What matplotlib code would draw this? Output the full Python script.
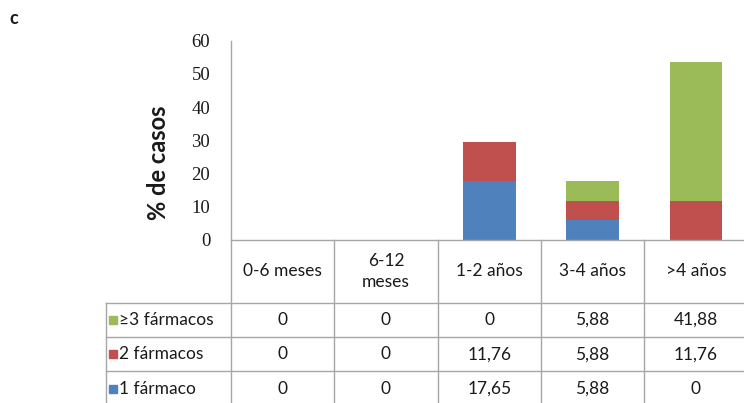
import numpy as np
import matplotlib
matplotlib.use("Agg")
import matplotlib.pyplot as plt

plt.rcParams['font.family'] = ['Lato', 'DejaVu Sans']

# datos
categorias = ["0-6 meses", "6-12\nmeses", "1-2 años", "3-4 años", ">4 años"]
series = ["≥3 fármacos", "2 fármacos", "1 fármaco"]
un_farmaco = [0, 0, 17.65, 5.88, 0]
dos_farmacos = [0, 0, 11.76, 5.88, 11.76]
tres_farmacos = [0, 0, 0, 5.88, 41.88]
yticks = [0, 10, 20, 30, 40, 50, 60]

azul = "#4F81BD"
rojo = "#C0504D"
verde = "#9BBB59"
gris = "#A6A6A6"
texto = "#1a1a1a"

W, H = 744, 403
fig = plt.figure(figsize=(W / 100, H / 100), dpi=100)

# eje de barras
ax = fig.add_axes([231 / W, (H - 240) / H, 516.5 / W, (240 - 40.6) / H])
x = np.arange(len(categorias))
ax.bar(x, un_farmaco, width=0.51, color=azul)
ax.bar(x, dos_farmacos, width=0.51, bottom=un_farmaco, color=rojo)
base3 = np.array(un_farmaco) + np.array(dos_farmacos)
ax.bar(x, tres_farmacos, width=0.51, bottom=base3, color=verde)
ax.set_xlim(-0.5, 4.5)
ax.set_ylim(0, 60)
ax.set_yticks(yticks)
ax.set_yticklabels([str(v) for v in yticks], family='Liberation Serif',
                   fontsize=13.5, color=texto)
ax.set_xticks([])
ax.tick_params(axis='y', length=0, pad=15)
for s in ['top', 'right', 'bottom']:
    ax.spines[s].set_visible(False)
ax.spines['left'].set_color(gris)
ax.spines['left'].set_linewidth(1.0)

fig.text(158 / W, 1 - 163 / H, "% de casos", rotation=90, ha='center',
         va='center', fontsize=17, fontweight='bold', color=texto)
fig.text(14 / W, 1 - 18 / H, "c", ha='center', va='center', fontsize=13,
         fontweight='bold', color=texto)

# tabla de datos
izq = -0.5 - 125 / 103.3
tx = fig.add_axes([106 / W, 0, (747.5 - 106) / W, 163 / H])
tx.set_xlim(izq, 4.5)
tx.set_ylim(4.75, 0)
tx.axis('off')
cab = 1.83

tx.plot([-0.5, 4.5], [0, 0], color=gris, lw=1.0, clip_on=False)
for k in range(3):
    yy = cab + k
    tx.plot([izq, 4.5], [yy, yy], color=gris, lw=1.0, clip_on=False)
for xv in np.arange(-0.5, 4.6, 1.0):
    tx.plot([xv, xv], [0, 4.9], color=gris, lw=1.0, clip_on=False)
tx.plot([izq, izq], [cab, 4.9], color=gris, lw=1.0, clip_on=False)

for i, c in enumerate(categorias):
    tx.text(i, cab / 2, c, ha='center', va='center', fontsize=12.5,
            color=texto, linespacing=1.35)

def fmt(v):
    if v == 0:
        return "0"
    return ("%.2f" % v).replace(".", ",")

filas = [tres_farmacos, dos_farmacos, un_farmaco]
colores = [verde, rojo, azul]
for r, (nombre, vals, col) in enumerate(zip(series, filas, colores)):
    yc = cab + r + 0.5
    tx.plot([izq + 7 / 103.3], [yc], marker='s', markersize=5.5, color=col,
            clip_on=False)
    tx.text(izq + 13 / 103.3, yc, nombre, ha='left', va='center',
            fontsize=12.5, color=texto)
    for i, v in enumerate(vals):
        tx.text(i, yc, fmt(v), ha='center', va='center', fontsize=12.5,
                color=texto)

plt.savefig("out.png", dpi=100)
